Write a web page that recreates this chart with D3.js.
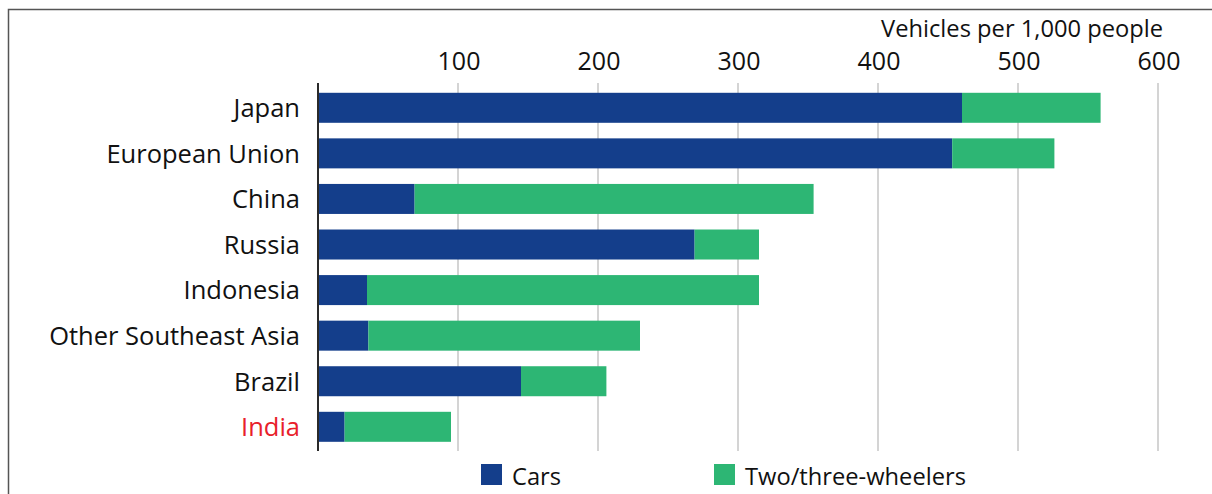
<!DOCTYPE html>
<html>
<head>
<meta charset="utf-8">
<script src="https://cdn.jsdelivr.net/npm/d3@7"></script>
<style>
  body { margin: 0; background: #fff; }
  text { font-family: "Open Sans", sans-serif; }
</style>
</head>
<body>
<div id="chart"></div>
<script>
const regions = ['Japan', 'European Union', 'China', 'Russia', 'Indonesia', 'Other Southeast Asia', 'Brazil', 'India'];
const cars = [460, 453, 69, 269, 35, 36, 145, 19];
const twoThree = [99, 73, 285, 46, 280, 194, 61, 76];
const seriesNames = ['Cars', 'Two/three-wheelers'];
const tickValues = [100, 200, 300, 400, 500, 600];

const w = 1212, h = 494;
const navy = '#143e8b', green = '#2db674';

const data = regions.map((r, i) => ({ region: r, cars: cars[i], two: twoThree[i] }));
const stack = d3.stack().keys(['cars', 'two'])(data);

const x = d3.scaleLinear().domain([0, 600]).range([318, 1158]);
const y = d3.scaleBand().domain(regions).range([85, 449.6]).paddingInner(0.3417).paddingOuter(0.171);
const color = d3.scaleOrdinal().domain(['cars', 'two']).range([navy, green]);

const svg = d3.select('#chart').append('svg')
  .attr('width', w)
  .attr('height', h);

// frame
svg.append('path')
  .attr('d', `M8.5,${h} V9.5 H${w}`)
  .attr('fill', 'none')
  .attr('stroke', '#555')
  .attr('stroke-width', 1.5);

// grid
svg.append('g')
  .selectAll('line')
  .data(tickValues)
  .join('line')
  .attr('x1', d => x(d))
  .attr('x2', d => x(d))
  .attr('y1', 83)
  .attr('y2', 451)
  .attr('stroke', '#c6c6c6')
  .attr('stroke-width', 1.5);

// top axis labels
svg.append('g')
  .selectAll('text')
  .data(tickValues)
  .join('text')
  .attr('x', d => x(d) + 1)
  .attr('y', 69.5)
  .attr('text-anchor', 'middle')
  .style('font-size', '25px')
  .style('fill', '#111')
  .text(d => d);

svg.append('text')
  .attr('x', 1163)
  .attr('y', 36.5)
  .attr('text-anchor', 'end')
  .style('font-size', '23.7px')
  .style('fill', '#111')
  .text('Vehicles per 1,000 people');

// bars
svg.append('g')
  .selectAll('g')
  .data(stack)
  .join('g')
  .attr('fill', d => color(d.key))
  .selectAll('rect')
  .data(d => d)
  .join('rect')
  .attr('x', d => x(d[0]))
  .attr('width', d => x(d[1]) - x(d[0]))
  .attr('y', d => y(d.data.region))
  .attr('height', y.bandwidth());

// zero axis line
svg.append('line')
  .attr('x1', x(0))
  .attr('x2', x(0))
  .attr('y1', 83)
  .attr('y2', 451)
  .attr('stroke', '#2a2a2a')
  .attr('stroke-width', 2);

// region labels
svg.append('g')
  .selectAll('text')
  .data(regions)
  .join('text')
  .attr('x', x(0) - 18)
  .attr('y', d => y(d) + y.bandwidth() / 2 + 9.3)
  .attr('text-anchor', 'end')
  .style('font-size', '25.5px')
  .style('fill', d => d === 'India' ? '#e8202a' : '#111')
  .text(d => d);

// legend
const legendX = [481, 714];
const legend = svg.append('g')
  .selectAll('g')
  .data(seriesNames)
  .join('g')
  .attr('transform', (d, i) => `translate(${legendX[i]}, 464)`);

legend.append('rect')
  .attr('width', 21)
  .attr('height', 21)
  .attr('fill', (d, i) => i === 0 ? navy : green);

legend.append('text')
  .attr('x', 31)
  .attr('y', 20.5)
  .style('font-size', '23.7px')
  .style('fill', '#111')
  .text(d => d);
</script>
</body>
</html>
